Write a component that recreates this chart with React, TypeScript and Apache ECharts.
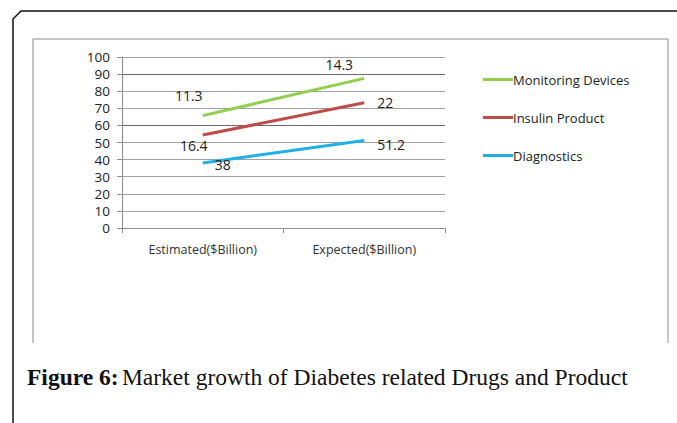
import React, { useEffect, useRef } from "react";
import * as echarts from "echarts";

const categories = ["Estimated($Billion)", "Expected($Billion)"];
const diagnostics = [38, 51.2];
const insulinProduct = [16.4, 22];
const monitoringDevices = [11.3, 14.3];
const yTicks = [0, 10, 20, 30, 40, 50, 60, 70, 80, 90, 100];

const FONT = "'Open Sans', 'Noto Sans', sans-serif";

export default function App() {
  const ref = useRef<HTMLDivElement>(null);
  useEffect(() => {
    document.body.style.margin = "0";
    const chart = echarts.init(ref.current!, undefined, { renderer: "svg" });
    const labelStyle = { fontFamily: FONT, fontSize: 14, color: "#222" };
    const lineCommon = { type: "line", stack: "total", symbol: "circle", symbolSize: 0, showSymbol: true };
    chart.setOption({
      animation: false,
      backgroundColor: "#fff",
      textStyle: { fontFamily: FONT },
      grid: { left: 122, right: 232, top: 57, bottom: 195, containLabel: false },
      legend: {
        data: ["Monitoring Devices", "Insulin Product", "Diagnostics"],
        orient: "vertical",
        left: 478,
        top: 68,
        itemWidth: 30,
        itemHeight: 3,
        itemGap: 25,
        icon: "rect",
        textStyle: { fontFamily: FONT, fontSize: 13, color: "#222", padding: [0, 0, 0, -5] },
      },
      xAxis: {
        type: "category",
        data: categories,
        boundaryGap: true,
        axisLine: { show: true, lineStyle: { color: "#8c8c8c", width: 1 } },
        axisTick: { show: true, length: 5, lineStyle: { color: "#8c8c8c" } },
        axisLabel: { margin: 15, fontFamily: FONT, fontSize: 12.5, color: "#333" },
        splitLine: { show: false },
      },
      yAxis: {
        type: "value",
        min: yTicks[0],
        max: yTicks[yTicks.length - 1],
        interval: 10,
        axisLine: { show: true, lineStyle: { color: "#8c8c8c", width: 1 } },
        axisTick: { show: true, length: 5, lineStyle: { color: "#8c8c8c" } },
        axisLabel: { margin: 12, fontFamily: FONT, fontSize: 13.5, lineHeight: 15, color: "#222" },
        splitLine: {
          show: true,
          lineStyle: {
            color: ["#a0a0a0", "#a0a0a0", "#a0a0a0", "#a0a0a0", "#a0a0a0", "#a0a0a0", "#6a6a6a", "#a0a0a0", "#a0a0a0", "#6a6a6a", "#a0a0a0"],
            width: 1,
          },
        },
      },
      series: [
        {
          ...lineCommon,
          name: "Diagnostics",
          data: [
            { value: diagnostics[0], label: { show: true, position: "bottom", offset: [20, -11], ...labelStyle } },
            { value: diagnostics[1], label: { show: true, position: "right", offset: [8, 4], ...labelStyle } },
          ],
          lineStyle: { color: "#1fb0e6", width: 3 },
          itemStyle: { color: "#1fb0e6" },
        },
        {
          ...lineCommon,
          name: "Insulin Product",
          data: [
            { value: insulinProduct[0], label: { show: true, position: "bottom", offset: [-9, -1], ...labelStyle } },
            { value: insulinProduct[1], label: { show: true, position: "right", offset: [8, 0], ...labelStyle } },
          ],
          lineStyle: { color: "#be4b48", width: 3 },
          itemStyle: { color: "#be4b48" },
        },
        {
          ...lineCommon,
          name: "Monitoring Devices",
          data: [
            { value: monitoringDevices[0], label: { show: true, position: "top", offset: [-14, -8], ...labelStyle } },
            { value: monitoringDevices[1], label: { show: true, position: "top", offset: [-25, -2], ...labelStyle } },
          ],
          lineStyle: { color: "#8fcf4c", width: 3 },
          itemStyle: { color: "#8fcf4c" },
        },
      ],
      graphic: [
        {
          type: "polyline",
          shape: { points: [[13, 423], [13, 19], [21, 11], [677, 11]] },
          style: { stroke: "#111", lineWidth: 1.5, fill: null },
          silent: true,
        },
        {
          type: "polyline",
          shape: { points: [[33, 343], [33, 39], [668, 39], [668, 343]] },
          style: { stroke: "#8a8a8a", lineWidth: 1, fill: null },
          silent: true,
        },
        {
          type: "text",
          left: 27,
          top: 365,
          style: {
            text: "{b|Figure 6:} {n|Market growth of Diabetes related Drugs and Product}",
            rich: {
              b: { fontFamily: "'Liberation Serif', serif", fontWeight: "bold", fontSize: 23.5, fill: "#111" },
              n: { fontFamily: "'Liberation Serif', serif", fontSize: 23.5, fill: "#111" },
            },
          },
        },
      ],
    });
    return () => chart.dispose();
  }, []);
  return <div ref={ref} style={{ position: "fixed", left: 0, top: 0, width: 677, height: 423 }} />;
}
